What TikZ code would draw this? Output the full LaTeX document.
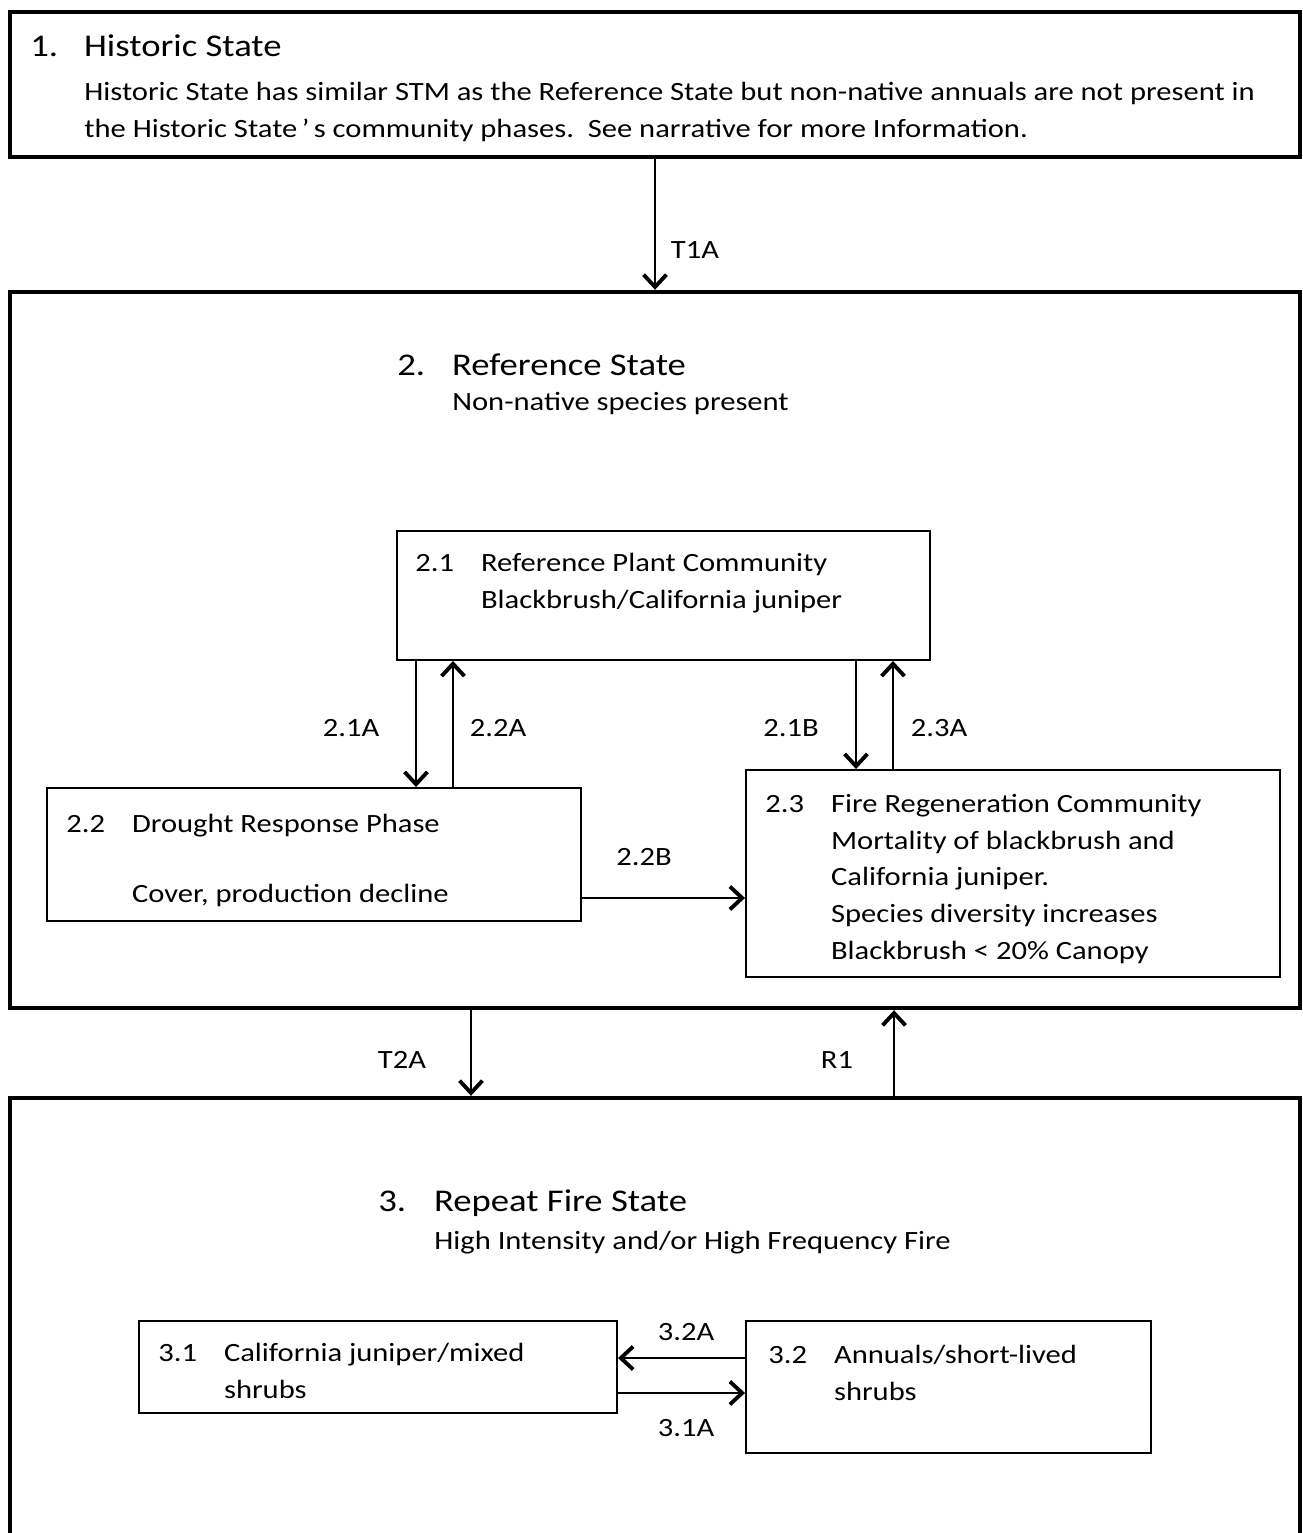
\documentclass[tikz,border=0pt]{standalone}
\usepackage{fontspec}
\setmainfont{Carlito}[FakeStretch=1.16]
\usepackage{array}
\usetikzlibrary{arrows.meta}
\usetikzlibrary{fit}

% phase number column
\newcolumntype{N}{@{}p{37.4pt}@{}}

\tikzset{
  statebox/.style={draw,line width=2.5pt,inner sep=0pt},
  phasebox/.style={draw,line width=1.1pt,inner sep=0pt},
  txt/.style={inner sep=0pt,font=\fontsize{15}{21}\selectfont},
  head/.style={inner sep=0pt,font=\fontsize{18}{22}\selectfont},
  lab/.style={inner sep=0pt,anchor=base,font=\fontsize{15}{17}\selectfont},
  tr/.style={line width=1.2pt,-{Straight Barb[length=7pt,width=13pt,line width=2.2pt]}},
}

\begin{document}
\begin{tikzpicture}[x=0.02cm,y=-0.02cm]
  \useasboundingbox (0,0) rectangle (1302,1533);
  \clip (0,0) rectangle (1302,1533);

  % state boxes
  \node[statebox,fit={(10,12) (1300,157)}] (s1) {};
  \node[statebox,fit={(10,292) (1300,1008)}] (s2) {};
  \node[statebox,fit={(10,1098) (1300,1580)}] (s3) {};

  % community phases
  \node[phasebox,fit={(397,531) (930,660)}] (p21) {};
  \node[phasebox,fit={(47,788) (581,921)}] (p22) {};
  \node[phasebox,fit={(746,770) (1280,977)}] (p23) {};
  \node[phasebox,fit={(139,1321) (617,1413)}] (p31) {};
  \node[phasebox,fit={(746,1321) (1151,1453)}] (p32) {};

  % state 1
  \node[head,anchor=base west] (s1name) at (30,57) {\makebox[30.6pt][l]{1.}Historic State};
  \node[txt,anchor=north west] (s1txt) at (84,74)
    {\begin{tabular}{@{}l@{}}
     Historic State has similar STM as the Reference State but non-native annuals are not present in\\
     the Historic State\,’\,s community phases.\ \ See narrative for more Information.
     \end{tabular}};

  % state 2
  \node[head,anchor=base west] (s2name) at (397,376) {\makebox[31.2pt][l]{2.}Reference State};
  \node[txt,anchor=base west] (s2txt) at (452,411) {Non-native species present};

  \node[txt,anchor=north west] (p21txt) at (415,545)
    {\begin{tabular}{Nl@{}}
     2.1 & Reference Plant Community\\
         & Blackbrush/California juniper
     \end{tabular}};

  \node[txt,anchor=north west] (p22txt) at (66,806)
    {\begin{tabular}{Nl@{}}
     2.2 & Drought Response Phase\\[19pt]
         & Cover, production decline
     \end{tabular}};

  \node[txt,anchor=north west] (p23txt) at (765,786)
    {\begin{tabular}{Nl@{}}
     2.3 & Fire Regeneration Community\\
         & Mortality of blackbrush and\\
         & California juniper.\\
         & Species diversity increases\\
         & Blackbrush < 20\% Canopy
     \end{tabular}};

  % state 3
  \node[head,anchor=base west] (s3name) at (378,1211) {\makebox[31.7pt][l]{3.}Repeat Fire State};
  \node[txt,anchor=base west] (s3txt) at (434,1249) {High Intensity and/or High Frequency Fire};

  \node[txt,anchor=north west] (p31txt) at (158,1335)
    {\begin{tabular}{Nl@{}}
     3.1 & California juniper/mixed\\
         & shrubs
     \end{tabular}};

  \node[txt,anchor=north west] (p32txt) at (768,1337)
    {\begin{tabular}{Nl@{}}
     3.2 & Annuals/short-lived\\
         & shrubs
     \end{tabular}};

  % transitions and pathways
  \draw[tr] (s1.south) -- (s2.north);
  \node[lab] (t1a) at (695,259) {T1A};

  \draw[tr] (p21.south -| 416,0) -- (p22.north -| 416,0);
  \draw[tr] (p22.north -| 453,0) -- (p21.south -| 453,0);
  \node[lab] (l21a) at (351,736) {2.1A};
  \node[lab] (l22a) at (498,736) {2.2A};

  \draw[tr] (p21.south -| 856,0) -- (p23.north -| 856,0);
  \draw[tr] (p23.north -| 893,0) -- (p21.south -| 893,0);
  \node[lab] (l21b) at (791,736) {2.1B};
  \node[lab] (l23a) at (939,736) {2.3A};

  \draw[tr] (p22.east |- 0,898) -- (p23.west |- 0,898);
  \node[lab] (l22b) at (644,865) {2.2B};

  \draw[tr] (s2.south -| 471,0) -- (s3.north -| 471,0);
  \draw[tr] (s3.north -| 894,0) -- (s2.south -| 894,0);
  \node[lab] (t2a) at (402,1068) {T2A};
  \node[lab] (r1) at (837,1068) {R1};

  \draw[tr] (p32.west |- 0,1358) -- (p31.east |- 0,1358);
  \draw[tr] (p31.east |- 0,1393) -- (p32.west |- 0,1393);
  \node[lab] (l32a) at (686,1340) {3.2A};
  \node[lab] (l31a) at (686,1436) {3.1A};
\end{tikzpicture}
\end{document}
